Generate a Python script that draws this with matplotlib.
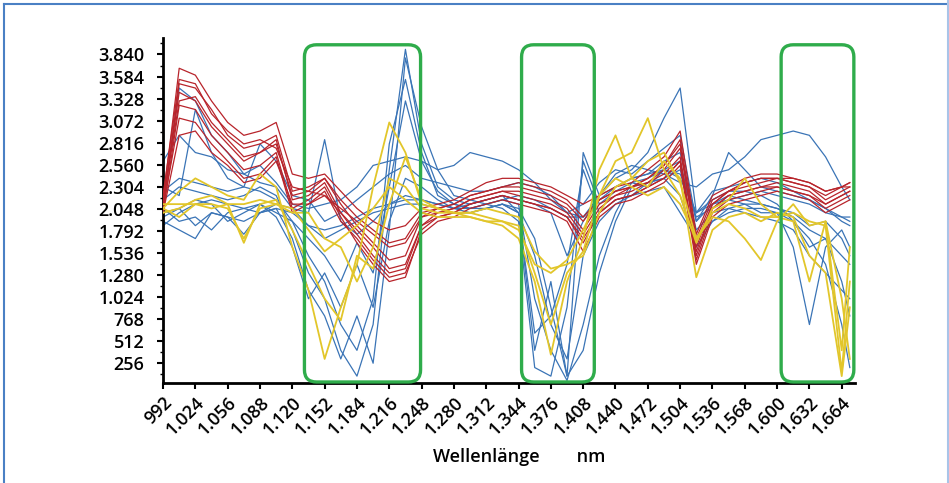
import matplotlib
matplotlib.use("Agg")
import matplotlib.pyplot as plt
from matplotlib.patches import FancyBboxPatch
from matplotlib.ticker import FixedLocator, MultipleLocator, FuncFormatter
from matplotlib.lines import Line2D

# wavelengths (nm)
wl = [992, 1008, 1024, 1040, 1056, 1072, 1088, 1104, 1120, 1136, 1152, 1168, 1184, 1200,
      1216, 1232, 1248, 1264, 1280, 1296, 1312, 1328, 1344, 1360, 1376, 1392, 1408, 1424,
      1440, 1456, 1472, 1488, 1504, 1520, 1536, 1552, 1568, 1584, 1600, 1616, 1632, 1648,
      1664, 1672]

red = [
    [2150, 3680, 3600, 3300, 3050, 2900, 2950, 3050, 2450, 2400, 2450, 2250, 2050, 1900, 1800, 1850, 2050, 2100, 2150, 2250, 2350, 2400, 2400, 2350, 2300, 2200, 2100, 2200, 2300, 2350, 2500, 2650, 2950, 1750, 2200, 2300, 2400, 2450, 2450, 2400, 2350, 2250, 2300, 2350],
    [2050, 3500, 3450, 3200, 2900, 2750, 2800, 2900, 2250, 2300, 2400, 2100, 1850, 1650, 1450, 1500, 1950, 2050, 2100, 2200, 2250, 2300, 2300, 2250, 2200, 2100, 1900, 2150, 2250, 2300, 2400, 2550, 2800, 1600, 2100, 2250, 2300, 2350, 2400, 2350, 2300, 2150, 2250, 2300],
    [2100, 3400, 3300, 3000, 2800, 2600, 2700, 2850, 2150, 2200, 2350, 2000, 1750, 1500, 1300, 1350, 1850, 2000, 2050, 2150, 2200, 2250, 2200, 2150, 2100, 2000, 1750, 2050, 2200, 2250, 2350, 2450, 2650, 1500, 2050, 2200, 2250, 2300, 2350, 2300, 2250, 2100, 2200, 2250],
    [2000, 3250, 3200, 2900, 2700, 2500, 2550, 2700, 2050, 2150, 2300, 1950, 1650, 1400, 1200, 1250, 1800, 1950, 2000, 2100, 2150, 2200, 2150, 2100, 2050, 1950, 1650, 2000, 2150, 2200, 2300, 2400, 2600, 1450, 2000, 2150, 2200, 2250, 2300, 2250, 2200, 2050, 2150, 2200],
    [2200, 3550, 3500, 3150, 2950, 2800, 2850, 2750, 2300, 2250, 2200, 2050, 1900, 1750, 1600, 1650, 1950, 2000, 2050, 2150, 2200, 2250, 2250, 2200, 2150, 2050, 1800, 2100, 2200, 2300, 2350, 2500, 2750, 1650, 2100, 2250, 2350, 2400, 2400, 2350, 2300, 2200, 2300, 2300],
    [2050, 3100, 3050, 2800, 2600, 2400, 2450, 2650, 2000, 2100, 2250, 1900, 1700, 1450, 1250, 1300, 1750, 1900, 1950, 2050, 2100, 2150, 2100, 2050, 2000, 1900, 1550, 1950, 2100, 2150, 2250, 2350, 2550, 1400, 1950, 2100, 2150, 2200, 2250, 2200, 2150, 2000, 2100, 2150],
    [2100, 3300, 3350, 3050, 2850, 2650, 2700, 2800, 2200, 2250, 2400, 2150, 1950, 1800, 1650, 1700, 2000, 2050, 2100, 2200, 2250, 2300, 2350, 2300, 2250, 2150, 1950, 2150, 2250, 2300, 2400, 2550, 2850, 1700, 2150, 2250, 2350, 2400, 2400, 2400, 2350, 2250, 2300, 2350],
    [2000, 2900, 2950, 2700, 2550, 2350, 2400, 2600, 2100, 2100, 2200, 2000, 1800, 1600, 1350, 1400, 1850, 1950, 2000, 2100, 2150, 2200, 2150, 2100, 2050, 1950, 1700, 2000, 2150, 2200, 2300, 2400, 2600, 1550, 2050, 2200, 2250, 2300, 2300, 2250, 2200, 2100, 2200, 2250],
]

blue = [
    [2150, 2300, 2250, 2200, 2150, 2200, 2300, 2200, 1800, 1300, 1000, 400, 100, 700, 2500, 3900, 2800, 2300, 2150, 2100, 2150, 2200, 2000, 400, 1200, 100, 2700, 2200, 2300, 2400, 2450, 2600, 2700, 1900, 2100, 2200, 2150, 2100, 2050, 1950, 1800, 1700, 1500, 1400],
    [2000, 2050, 1850, 2000, 1950, 1750, 2000, 2050, 1700, 1100, 800, 300, 800, 250, 1800, 3800, 3000, 2500, 2200, 2150, 2100, 2050, 1900, 200, 100, 900, 2600, 2100, 2250, 2350, 2300, 2500, 2600, 1800, 2000, 2050, 2000, 1950, 1900, 1800, 1500, 1300, 1100, 1000],
    [2250, 2400, 2350, 2300, 2250, 2300, 2250, 2150, 1900, 1500, 1200, 700, 400, 1000, 2800, 3550, 2700, 2200, 2100, 2050, 2100, 2150, 2100, 1000, 400, 50, 700, 1500, 2000, 2350, 2400, 2500, 2450, 2000, 2150, 2250, 2250, 2200, 2100, 1900, 1700, 1400, 700, 200],
    [2100, 3450, 3300, 2900, 2700, 2450, 2350, 2300, 2050, 2000, 2850, 1900, 1750, 1900, 2100, 2200, 2150, 2100, 2050, 2100, 2150, 2200, 2150, 2100, 2000, 1500, 1900, 2200, 2400, 2500, 2700, 3100, 3450, 2000, 2250, 2300, 2350, 2400, 2350, 2250, 2150, 2050, 1900, 1850],
    [2600, 2900, 2700, 2650, 2500, 2450, 2550, 2350, 2100, 2050, 2100, 2150, 2300, 2550, 2600, 2650, 2600, 2500, 2550, 2700, 2650, 2600, 2500, 2350, 2150, 2000, 1950, 2200, 2450, 2550, 2500, 2450, 2350, 2300, 2450, 2500, 2650, 2850, 2900, 2950, 2900, 2650, 2300, 2150],
    [1950, 2050, 2150, 2100, 1900, 2000, 2100, 1950, 1600, 1000, 1300, 900, 1400, 900, 1900, 2400, 2300, 2150, 2050, 2000, 2050, 2100, 2050, 1700, 900, 100, 400, 1300, 1900, 2300, 2350, 2400, 2500, 1950, 2050, 2150, 2100, 2000, 2000, 1600, 700, 1600, 1800, 1600],
    [1900, 1800, 1700, 2000, 1950, 1900, 2000, 2100, 2050, 1850, 1700, 1800, 1900, 2000, 2050, 2100, 2100, 2050, 2000, 2000, 2050, 2100, 2000, 1500, 700, 300, 1500, 1900, 2100, 2200, 2250, 2300, 2000, 1700, 1900, 2000, 2050, 2050, 2000, 1900, 1600, 1700, 1200, 800],
    [2300, 2200, 3200, 2700, 2400, 2300, 2800, 2600, 2200, 2150, 1900, 2000, 2150, 2300, 2450, 2550, 2400, 2350, 2300, 2250, 2250, 2300, 2350, 2300, 2200, 2000, 2100, 2350, 2500, 2450, 2600, 2750, 2900, 1900, 2200, 2700, 2500, 2300, 2250, 2200, 2150, 2050, 1950, 1900],
    [2050, 1900, 1950, 1800, 2000, 2050, 2100, 2000, 1900, 1700, 1500, 1200, 1650, 1300, 2300, 3300, 2600, 2250, 2100, 2050, 2050, 2100, 2000, 600, 800, 1400, 2500, 2000, 2150, 2200, 2350, 2400, 2200, 1600, 1900, 2050, 2100, 2100, 2050, 2000, 1850, 1900, 1700, 1500],
    [1850, 2000, 2100, 2150, 2100, 2050, 2000, 2050, 2000, 1850, 1800, 1850, 1950, 2050, 2100, 2150, 2150, 2100, 2050, 2050, 2100, 2150, 2200, 2150, 2050, 1950, 1950, 2150, 2300, 2400, 2450, 2500, 2400, 2000, 2100, 2150, 2200, 2250, 2200, 2150, 2100, 2000, 1950, 1950],
]

yellow = [
    [2050, 2250, 2400, 2300, 2200, 2150, 2450, 2300, 1600, 1100, 300, 900, 1400, 2300, 3050, 2700, 2100, 2050, 2000, 1950, 1900, 1850, 1700, 1200, 350, 1200, 1700, 2500, 2900, 2400, 2300, 2600, 2400, 1250, 1800, 1950, 2000, 1900, 2000, 1950, 1500, 1300, 100, 900],
    [2000, 2050, 2150, 2200, 2100, 1650, 2100, 2150, 1800, 1400, 1000, 750, 1500, 1350, 2100, 2650, 2150, 2050, 2000, 2000, 1950, 1900, 1850, 1300, 700, 1300, 1550, 2200, 2600, 2700, 3100, 2500, 2200, 1650, 2050, 2150, 2400, 2100, 1950, 2000, 1900, 1850, 150, 1200],
    [2100, 2100, 2100, 2050, 2100, 2100, 2150, 2100, 2000, 2000, 1700, 1600, 1200, 1600, 2400, 2300, 2050, 2000, 2000, 2000, 2050, 2000, 1950, 1550, 1350, 1400, 1500, 2000, 2300, 2400, 2600, 2700, 2350, 1700, 2000, 2100, 2050, 1950, 1950, 1900, 1200, 1900, 400, 1600],
    [2050, 1950, 2100, 2100, 2050, 1700, 2050, 2100, 2050, 1800, 1550, 1700, 1850, 2050, 2300, 2150, 2000, 1950, 1950, 1950, 1900, 1900, 1800, 1400, 1300, 1450, 1800, 2200, 2400, 2300, 2200, 2300, 2100, 1700, 1950, 1900, 1700, 1450, 1900, 2100, 1850, 1900, 1000, 300],
]

# highlighted wavelength bands (nm)
bands = [(1132, 1247), (1347, 1419), (1604, 1676)]

yticks = [256 * i for i in range(1, 16)]
xticks = list(range(992, 1665, 32))


def de_fmt(v, pos=None):
    return f"{int(round(v)):,}".replace(",", ".")


plt.rcParams['font.family'] = ['Open Sans', 'DejaVu Sans']

fig = plt.figure(figsize=(9.49, 4.83), dpi=100)
ax = fig.add_axes([0.1718, 0.207, 0.729, 0.714])

for s in blue:
    ax.plot(wl, s, color='#3a74b6', lw=0.9, zorder=2, solid_joinstyle='round')
for s in red:
    ax.plot(wl, s, color='#b8242b', lw=0.9, zorder=3, solid_joinstyle='round')
for s in yellow:
    ax.plot(wl, s, color='#e2c62a', lw=1.3, zorder=4, solid_joinstyle='round')

ax.set_xlim(992, 1677)
ax.set_ylim(20, 4030)

asp = (0.0859 ** -1) / (1.012 ** -1)
for x0, x1 in bands:
    box = FancyBboxPatch((x0, 32), x1 - x0, 3921,
                         boxstyle="round,pad=0,rounding_size=12",
                         mutation_aspect=asp, fill=False,
                         edgecolor='#2fac4b', lw=2.4, zorder=6, clip_on=False)
    ax.add_patch(box)

ax.spines['top'].set_visible(False)
ax.spines['right'].set_visible(False)
ax.spines['left'].set_linewidth(2)
ax.spines['bottom'].set_linewidth(2)

ax.yaxis.set_major_locator(FixedLocator(yticks))
ax.yaxis.set_minor_locator(MultipleLocator(128))
ax.yaxis.set_major_formatter(FuncFormatter(de_fmt))
ax.xaxis.set_major_locator(FixedLocator(xticks))
ax.xaxis.set_major_formatter(FuncFormatter(de_fmt))

ax.tick_params(axis='both', which='major', direction='out', length=4.3, width=1.5,
               labelsize=13)
ax.tick_params(axis='y', which='major', pad=9)
ax.tick_params(axis='y', which='minor', direction='out', length=2.5, width=1)
for lab in ax.get_yticklabels():
    lab.set_fontweight('semibold')
plt.setp(ax.get_xticklabels(), rotation=45, ha='right', rotation_mode='anchor',
         fontweight='semibold')

ax.set_xlabel("Wellenlänge        nm", fontsize=13, fontweight='semibold', labelpad=6,
              x=0.515)

# frame lines of the figure
fig.add_artist(Line2D([4 / 949, 4 / 949], [0, 1 - 4 / 483], color='#4a80c4', lw=1.5))
fig.add_artist(Line2D([4 / 949, 1], [1 - 4 / 483, 1 - 4 / 483], color='#4a80c4', lw=1.5))
fig.add_artist(Line2D([947.5 / 949, 947.5 / 949], [0, 1], color='#a9c4e8', lw=1.5))

fig.savefig("out.png", dpi=100)
